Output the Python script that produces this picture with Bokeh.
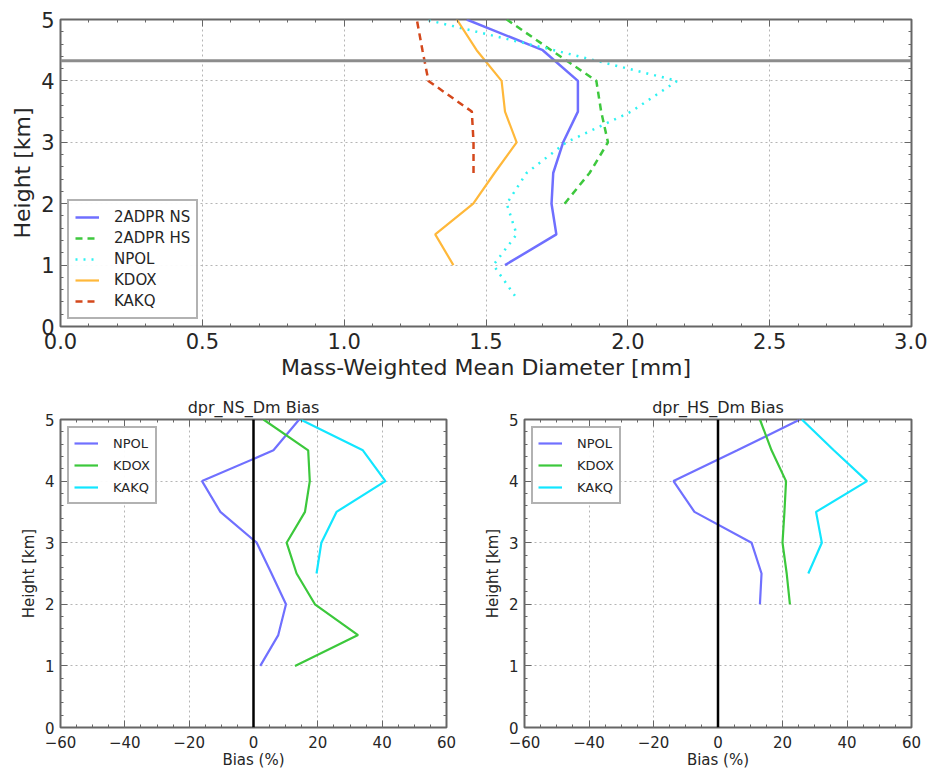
from bokeh.plotting import figure
from bokeh.layouts import column, row
from bokeh.models import (Range1d, FixedTicker, LinearAxis, Span, Legend, LegendItem,
                          NumeralTickFormatter)
from bokeh.embed import file_html
from bokeh.resources import INLINE

FONT = "DejaVu Sans"

# ---------------- data: top panel (Dm profiles) ----------------
h_ns = [1.0, 1.5, 2.0, 2.5, 3.0, 3.5, 4.0, 4.5, 5.0]
dm_ns = [1.567, 1.748, 1.731, 1.737, 1.772, 1.824, 1.824, 1.700, 1.432]

h_hs = [2.0, 2.5, 3.0, 3.5, 4.0, 4.5, 5.0]
dm_hs = [1.777, 1.865, 1.930, 1.906, 1.889, 1.730, 1.573]

h_npol = [0.5, 1.0, 1.5, 2.0, 2.5, 3.0, 3.5, 4.0, 4.5, 5.0]
dm_npol = [1.602, 1.526, 1.608, 1.573, 1.643, 1.783, 2.012, 2.174, 1.740, 1.286]

h_kdox = [1.0, 1.5, 2.0, 2.5, 3.0, 3.5, 4.0, 4.5, 5.0]
dm_kdox = [1.385, 1.321, 1.455, 1.530, 1.608, 1.567, 1.555, 1.467, 1.397]

h_kakq = [2.5, 3.0, 3.5, 4.0, 4.5, 5.0]
dm_kakq = [1.456, 1.456, 1.450, 1.297, 1.276, 1.256]

freezing_level_km = 4.33

top_xticks = [0.0, 0.5, 1.0, 1.5, 2.0, 2.5, 3.0]
top_xminor = [0.1, 0.2, 0.3, 0.4, 0.6, 0.7, 0.8, 0.9, 1.1, 1.2, 1.3, 1.4, 1.6, 1.7, 1.8, 1.9,
              2.1, 2.2, 2.3, 2.4, 2.6, 2.7, 2.8, 2.9]
height_ticks = [0, 1, 2, 3, 4, 5]
height_minor = [0.2, 0.4, 0.6, 0.8, 1.2, 1.4, 1.6, 1.8, 2.2, 2.4, 2.6, 2.8, 3.2, 3.4, 3.6, 3.8,
                4.2, 4.4, 4.6, 4.8]

# ---------------- data: bias panels ----------------
h_bias_ns = [1.0, 1.5, 2.0, 2.5, 3.0, 3.5, 4.0, 4.5, 5.0]
ns_bias_npol = [2.1, 7.7, 10.1, 5.6, 1.0, -10.3, -16.0, 6.2, 14.2]
ns_bias_kdox = [12.9, 32.5, 19.1, 13.4, 10.3, 16.0, 17.5, 17.0, 3.1]
h_bias_ns_kakq = [2.5, 3.0, 3.5, 4.0, 4.5, 5.0]
ns_bias_kakq = [19.6, 21.1, 25.8, 41.0, 34.0, 14.6]

h_bias_hs = [2.0, 2.5, 3.0, 3.5, 4.0, 4.5, 5.0]
hs_bias_npol = [13.0, 13.5, 10.4, -7.3, -13.8, 6.0, 25.4]
hs_bias_kdox = [22.3, 21.3, 20.0, 20.6, 21.1, 16.6, 13.0]
h_bias_hs_kakq = [2.5, 3.0, 3.5, 4.0, 4.5, 5.0]
hs_bias_kakq = [28.0, 32.2, 30.4, 46.2, 35.9, 26.0]

bias_xticks = [-60, -40, -20, 0, 20, 40, 60]
bias_xminor = [-55, -50, -45, -35, -30, -25, -15, -10, -5, 5, 10, 15, 25, 30, 35, 45, 50, 55]
bias_labels = {-60: "\u221260", -40: "\u221240", -20: "\u221220", 0: "0", 20: "20", 40: "40", 60: "60"}

TXT = "#262626"
FRAME = "#666666"


def style_axes(p, xt, xm, yt, ym, tick_size, label_size, xfmt=None, xoverrides=None):
    p.outline_line_color = FRAME
    p.outline_line_width = 2
    p.xgrid.ticker = FixedTicker(ticks=xt)
    p.ygrid.ticker = FixedTicker(ticks=yt)
    for g in (p.xgrid, p.ygrid):
        g.grid_line_color = "#b5b5b5"
        g.grid_line_dash = "2 3"
        g.grid_line_width = 1
    # extra axes for ticks on top and right (labels not drawn)
    p.add_layout(LinearAxis(), "above")
    p.add_layout(LinearAxis(), "right")
    for ax in p.xaxis:
        ax.ticker = FixedTicker(ticks=xt, minor_ticks=xm)
    for ax in p.yaxis:
        ax.ticker = FixedTicker(ticks=yt, minor_ticks=ym)
    for ax in p.axis:
        ax.axis_line_color = None
        ax.major_tick_in = 7
        ax.major_tick_out = 0
        ax.minor_tick_in = 3
        ax.minor_tick_out = 0
        ax.major_tick_line_color = FRAME
        ax.minor_tick_line_color = FRAME
        ax.major_label_text_font = FONT
        ax.major_label_text_font_size = f"{tick_size}px"
        ax.major_label_text_color = TXT
        ax.axis_label_text_font = FONT
        ax.axis_label_text_font_size = f"{label_size}px"
        ax.axis_label_text_font_style = "normal"
        ax.axis_label_text_color = TXT
        ax.major_label_standoff = 6
    for ax in (p.above[0], p.right[0]):
        ax.major_label_text_font_size = "1px"
        ax.major_label_text_color = None
        ax.major_label_standoff = 0
    if xfmt is not None:
        p.below[0].formatter = xfmt
    if xoverrides is not None:
        p.below[0].major_label_overrides = xoverrides


# ---------------- top figure ----------------
top = figure(frame_width=851, frame_height=307, x_range=Range1d(0, 3), y_range=Range1d(0, 5),
             output_backend="svg", toolbar_location=None,
             min_border_left=60, min_border_right=16, min_border_top=19, min_border_bottom=63,
             x_axis_label="Mass-Weighted Mean Diameter [mm]", y_axis_label="Height [km]")
style_axes(top, top_xticks, top_xminor, height_ticks, height_minor, 21, 22,
           xfmt=NumeralTickFormatter(format="0.0"))
top.below[0].axis_label_standoff = 3
top.left[0].axis_label_standoff = 3

top.add_layout(Span(location=freezing_level_km, dimension="width", line_color="#8c8c8c",
                    line_width=3))

r_ns = top.line(dm_ns, h_ns, line_color="#6f6fff", line_width=2.5)
r_hs = top.line(dm_hs, h_hs, line_color="#3ec83e", line_width=2.5, line_dash="7 5")
r_np = top.line(dm_npol, h_npol, line_color="#2ef2f2", line_width=2.5, line_dash="2 6")
r_kd = top.line(dm_kdox, h_kdox, line_color="#ffb83a", line_width=2.2)
r_ka = top.line(dm_kakq, h_kakq, line_color="#d4481c", line_width=2.5, line_dash="7 5")

leg_top = Legend(items=[LegendItem(label="2ADPR NS", renderers=[r_ns]),
                        LegendItem(label="2ADPR HS", renderers=[r_hs]),
                        LegendItem(label="NPOL", renderers=[r_np]),
                        LegendItem(label="KDOX", renderers=[r_kd]),
                        LegendItem(label="KAKQ", renderers=[r_ka])],
                 location="bottom_left")
leg_top.margin = 7
leg_top.padding = 6
leg_top.spacing = 1
leg_top.glyph_width = 24
leg_top.glyph_height = 20
leg_top.label_height = 20
leg_top.label_standoff = 15
leg_top.label_text_font = FONT
leg_top.label_text_font_size = "15px"
leg_top.label_text_color = TXT
leg_top.border_line_color = FRAME
leg_top.border_line_width = 2
top.add_layout(leg_top)


# ---------------- bias figures ----------------
def bias_fig(title, h1, b_npol, b_kdox, h2, b_kakq, left_border, right_border, fw):
    p = figure(frame_width=fw, frame_height=308, x_range=Range1d(-60, 60), y_range=Range1d(0, 5),
               output_backend="svg", toolbar_location=None, title=title,
               min_border_left=left_border, min_border_right=right_border,
               min_border_top=30, min_border_bottom=40,
               x_axis_label="Bias (%)", y_axis_label="Height [km]")
    style_axes(p, bias_xticks, bias_xminor, height_ticks, height_minor, 15, 15,
               xoverrides=bias_labels)
    p.below[0].axis_label_standoff = 0
    p.below[0].major_label_standoff = 8
    p.left[0].axis_label_standoff = 4
    p.title.align = "center"
    p.title.text_font = FONT
    p.title.text_font_size = "16px"
    p.title.text_font_style = "normal"
    p.title.text_color = TXT
    p.title.standoff = 6
    p.add_layout(Span(location=0, dimension="height", line_color="black", line_width=2.5))
    a = p.line(b_npol, h1, line_color="#7070ff", line_width=2.2)
    b = p.line(b_kdox, h1, line_color="#3cc83c", line_width=2.2)
    c = p.line(b_kakq, h2, line_color="#12e6ff", line_width=2.2)
    leg = Legend(items=[LegendItem(label="NPOL", renderers=[a]),
                        LegendItem(label="KDOX", renderers=[b]),
                        LegendItem(label="KAKQ", renderers=[c])],
                 location="top_left")
    leg.margin = 7
    leg.padding = 5
    leg.spacing = 2
    leg.glyph_width = 24
    leg.glyph_height = 20
    leg.label_height = 20
    leg.label_standoff = 15
    leg.label_text_font = FONT
    leg.label_text_font_size = "13px"
    leg.label_text_color = TXT
    leg.border_line_color = FRAME
    leg.border_line_width = 2
    p.add_layout(leg)
    return p


bl = bias_fig("dpr_NS_Dm Bias", h_bias_ns, ns_bias_npol, ns_bias_kdox, h_bias_ns_kakq, ns_bias_kakq,
              60, 10, 386)
br = bias_fig("dpr_HS_Dm Bias", h_bias_hs, hs_bias_npol, hs_bias_kdox, h_bias_hs_kakq, hs_bias_kakq,
              68, 16, 387)

layout = column(top, row(bl, br))
open("out.html", "w").write(file_html(layout, INLINE))
